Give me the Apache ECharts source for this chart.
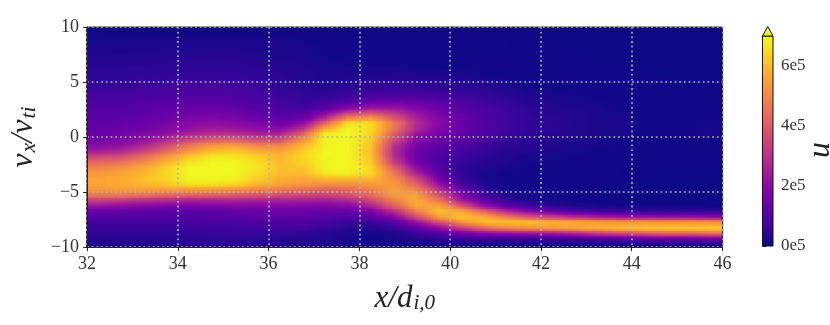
<!DOCTYPE html>
<html>
<head>
<meta charset="utf-8">
<script src="https://cdn.jsdelivr.net/npm/echarts@6/dist/echarts.min.js"></script>
<style>
html,body{margin:0;padding:0;background:#fff;width:830px;height:325px;overflow:hidden}
#stage{position:relative;width:830px;height:325px}
#clip{position:absolute;left:86px;top:27px;width:637px;height:220px;overflow:hidden;background:#000}
#heat{position:absolute;left:0;top:0;width:28px;height:40px;transform-origin:0 0;transform:scale(22.75,5.5)}
#main{position:absolute;left:0;top:0;width:830px;height:325px}
</style>
</head>
<body>
<svg width="0" height="0" style="position:absolute">
  <filter id="cmap" x="0" y="0" width="100%" height="100%" color-interpolation-filters="sRGB">
    <feComponentTransfer><feFuncR id="fr" type="table"/><feFuncG id="fg" type="table"/><feFuncB id="fb" type="table"/></feComponentTransfer>
  </filter>
</svg>
<div id="stage">
  <div id="clip"><div id="heat"></div></div>
  <div id="main"></div>
</div>
<script>
// cell centres of the phase-space map
const xCentres = [32.25,32.75,33.25,33.75,34.25,34.75,35.25,35.75,36.25,36.75,37.25,37.75,38.25,38.75,39.25,39.75,40.25,40.75,41.25,41.75,42.25,42.75,43.25,43.75,44.25,44.75,45.25,45.75];
const vCentres = [9.75,9.25,8.75,8.25,7.75,7.25,6.75,6.25,5.75,5.25,4.75,4.25,3.75,3.25,2.75,2.25,1.75,1.25,0.75,0.25,-0.25,-0.75,-1.25,-1.75,-2.25,-2.75,-3.25,-3.75,-4.25,-4.75,-5.25,-5.75,-6.25,-6.75,-7.25,-7.75,-8.25,-8.75,-9.25,-9.75];
// u in units of 1e4, one row per vCentres entry (top to bottom)
const uRows = [
[2,2,2,2,2,2,2,2,2,2,2,1,1,1,1,1,1,1,1,0,0,0,0,0,0,0,0,0],
[2,2,2,2,2,2,2,2,2,2,2,1,1,1,1,1,1,1,1,1,0,0,0,0,0,0,0,0],
[2,2,3,3,3,3,3,3,3,2,2,2,1,1,1,1,1,1,1,1,0,0,0,0,0,0,0,0],
[3,3,3,3,3,3,3,3,3,3,2,2,2,1,1,1,1,1,1,1,1,0,0,0,0,0,0,0],
[3,3,3,4,4,4,4,3,3,3,2,2,2,2,1,1,1,1,1,1,1,1,0,0,0,0,0,0],
[3,4,4,4,4,4,4,4,3,3,2,2,2,2,2,2,1,1,1,1,1,1,0,0,0,0,0,0],
[4,4,4,4,5,5,5,4,4,3,3,2,2,2,2,2,2,2,1,1,1,1,1,0,0,0,0,0],
[4,4,5,5,5,5,5,5,4,4,3,3,3,3,2,2,2,2,2,1,1,1,1,1,0,0,0,0],
[5,5,5,6,6,6,6,5,5,4,3,3,3,3,3,3,3,2,2,2,1,1,1,1,1,0,0,0],
[5,6,6,6,7,7,7,6,5,4,3,3,4,4,4,4,3,3,2,2,2,1,1,1,1,1,0,0],
[6,6,7,7,8,8,8,7,6,4,4,4,5,5,5,5,4,4,3,2,2,2,1,1,1,1,1,0],
[7,7,8,8,9,9,9,8,6,5,4,4,6,7,7,6,5,5,4,3,2,2,2,1,1,1,1,1],
[8,8,9,9,10,10,10,9,7,6,5,6,8,9,9,8,7,6,5,3,3,2,2,2,1,1,1,1],
[9,9,10,11,11,12,11,10,8,6,7,9,11,13,13,11,9,7,6,4,3,3,2,2,2,1,1,1],
[10,10,11,12,13,14,13,11,9,7,9,14,18,20,18,14,11,9,7,5,4,3,3,2,2,2,1,1],
[11,11,12,13,15,16,15,13,10,9,12,24,30,28,22,17,13,10,8,6,4,4,3,2,2,2,2,1],
[12,12,13,15,17,18,17,15,12,11,20,44,52,38,26,19,14,11,8,6,5,4,3,3,2,2,2,1],
[12,13,14,16,19,21,20,18,15,14,30,64,70,50,31,20,15,11,8,6,5,4,3,3,2,2,2,2],
[13,14,15,18,21,24,23,21,18,20,50,82,86,52,31,20,14,11,8,6,5,4,3,3,2,2,2,2],
[14,15,17,20,24,28,28,24,22,32,72,90,92,46,25,18,14,11,8,6,5,4,3,3,2,2,2,2],
[16,17,20,25,31,37,38,34,30,44,84,92,94,40,22,16,13,10,7,5,4,4,3,2,2,2,2,1],
[18,19,23,31,42,50,52,46,44,54,88,95,95,34,19,14,11,8,6,5,4,3,3,2,2,2,1,1],
[23,24,30,39,50,58,60,57,52,60,88,95,92,30,16,12,9,7,5,4,3,3,2,2,2,1,1,1],
[31,33,39,48,58,65,67,63,56,64,88,95,90,30,15,10,8,6,4,3,3,2,2,2,1,1,1,1],
[40,42,47,55,65,75,78,68,58,63,86,95,86,35,16,10,7,5,4,3,2,2,2,1,1,1,1,1],
[47,49,53,60,73,85,86,70,60,60,82,90,80,42,20,11,6,4,3,2,2,2,1,1,1,1,1,0],
[52,54,57,63,78,90,88,68,60,58,72,80,74,50,27,12,5,3,2,2,2,1,1,1,1,0,0,0],
[55,56,59,64,78,88,84,67,59,56,62,66,64,54,36,16,6,3,2,2,1,1,1,1,1,0,0,0],
[56,57,59,62,71,75,72,62,57,55,54,53,55,56,45,22,8,3,2,2,1,1,1,1,0,0,0,0],
[55,56,57,58,60,60,58,55,53,50,47,46,50,56,52,30,12,4,2,1,1,1,1,0,0,0,0,0],
[50,51,50,49,47,46,45,43,42,39,38,39,44,55,59,41,19,7,3,2,1,1,1,0,0,0,0,0],
[38,37,35,33,31,31,31,30,30,29,28,30,36,50,62,47,22,10,5,3,2,1,1,1,0,0,0,0],
[26,25,23,21,20,20,21,21,21,21,20,21,27,41,59,60,36,18,9,5,3,2,2,1,1,1,1,1],
[16,15,14,13,13,13,14,15,16,16,15,14,17,30,49,65,57,36,22,14,9,6,5,4,4,3,3,3],
[11,11,11,11,11,11,12,13,14,14,13,11,11,19,36,58,66,57,42,31,24,18,14,12,11,10,10,10],
[9,9,9,9,9,10,10,11,11,11,10,8,7,10,23,40,58,66,64,60,57,54,50,48,47,46,46,46],
[7,7,7,7,8,8,8,9,9,9,8,6,4,6,13,22,37,50,58,62,63,64,64,64,64,64,64,64],
[6,6,6,6,6,7,7,7,7,7,6,4,3,3,7,11,19,26,30,32,34,38,46,50,55,58,58,58],
[5,5,5,5,5,5,5,5,5,5,4,3,2,2,4,6,8,9,9,8,8,9,10,12,15,17,18,18],
[3,3,3,3,4,4,4,4,4,3,3,2,1,1,2,2,2,2,2,2,2,2,2,2,2,3,3,3]
];
// colour bar
const uMin = 0, uMax = 700000;
const uTickValues = [0, 200000, 400000, 600000];
const plasma = ['#0d0887','#41049d','#6a00a8','#8f0da4','#b12a90','#cc4778','#e16462','#f1844b','#fca636','#fcce25','#f0f921'];
const xTicks = {min: 32, max: 46, interval: 2};
const vTicks = {min: -10, max: 10, interval: 5};

// The map is drawn as a grey value image, smoothed by the browser's upscaling, then coloured by a plasma table.
const channel = k => plasma.map(c => (parseInt(c.substr(1 + 2 * k, 2), 16) / 255).toFixed(4)).join(' ');
['fr', 'fg', 'fb'].forEach((id, k) => document.getElementById(id).setAttribute('tableValues', channel(k)));
document.getElementById('clip').style.filter = 'url(#cmap)';

const heatCells = [];
uRows.forEach((row, j) => row.forEach((u, i) => heatCells.push([i, j, u * 10000])));

const heat = echarts.init(document.getElementById('heat'), null, {width: 28, height: 40, devicePixelRatio: 1, renderer: 'canvas'});
heat.setOption({
  animation: false,
  grid: {left: 0, right: 0, top: 0, bottom: 0},
  xAxis: {type: 'category', data: xCentres, show: false},
  yAxis: {type: 'category', data: vCentres, inverse: true, show: false},
  visualMap: {show: false, min: uMin, max: uMax, inRange: {color: ['#000000', '#ffffff']}, outOfRange: {color: ['#ffffff']}},
  series: [{type: 'heatmap', data: heatCells, progressive: 0, itemStyle: {borderWidth: 0}, emphasis: {disabled: true}}]
});

const serif = '"Liberation Serif","DejaVu Serif",serif';
const ink = '#262626';
const minusLabel = v => String(v).replace('-', '\u2212');
const barStops = plasma.map((color, i) => ({offset: i / (plasma.length - 1), color}));
const main = echarts.init(document.getElementById('main'), null, {width: 830, height: 325, devicePixelRatio: 1});
main.setOption({
  animation: false,
  backgroundColor: 'transparent',
  textStyle: {fontFamily: serif},
  grid: [
    {left: 85.5, top: 27, width: 637, height: 220, show: true, borderColor: ink, borderWidth: 1, backgroundColor: 'transparent'},
    {left: 762.5, top: 36, width: 10.5, height: 210, show: false}
  ],
  xAxis: [
    {gridIndex: 0, type: 'value', min: xTicks.min, max: xTicks.max, interval: xTicks.interval,
      axisLine: {show: true, onZero: false, lineStyle: {color: ink}},
      axisTick: {show: true, length: 4, lineStyle: {color: ink}},
      axisLabel: {fontFamily: serif, fontSize: 18, color: '#333', margin: 8, formatter: minusLabel},
      splitLine: {show: true, lineStyle: {color: '#b4b4b4', type: [1.8, 2.9], width: 1.6}},
      name: '{a|x/d}{b|i,0}', nameLocation: 'middle', nameGap: 36,
      nameTextStyle: {rich: {
        a: {fontFamily: serif, fontStyle: 'italic', fontSize: 31, color: '#222'},
        b: {fontFamily: serif, fontStyle: 'italic', fontSize: 21, color: '#222', padding: [10, 0, 0, 1]}
      }}},
    {gridIndex: 1, type: 'value', min: 0, max: 1, show: false}
  ],
  yAxis: [
    {gridIndex: 0, type: 'value', min: vTicks.min, max: vTicks.max, interval: vTicks.interval,
      axisLine: {show: true, onZero: false, lineStyle: {color: ink}},
      axisTick: {show: true, length: 4, lineStyle: {color: ink}},
      axisLabel: {fontFamily: serif, fontSize: 18, color: '#333', margin: 8, formatter: minusLabel},
      splitLine: {show: true, lineStyle: {color: '#b4b4b4', type: [1.8, 2.9], width: 1.6}},
      name: '{a|v}{b|x}{a|/v}{b|ti}', nameLocation: 'middle', nameGap: 43, nameRotate: 90,
      nameTextStyle: {rich: {
        a: {fontFamily: serif, fontStyle: 'italic', fontSize: 32, color: '#222'},
        b: {fontFamily: serif, fontStyle: 'italic', fontSize: 22, color: '#222', padding: [10, 0, 0, 1]}
      }}},
    {gridIndex: 1, type: 'value', position: 'right', min: uMin, max: uMax,
      axisLine: {show: false},
      axisTick: {show: true, length: 4, customValues: uTickValues, lineStyle: {color: '#111'}},
      axisLabel: {fontFamily: serif, fontSize: 17, color: '#333', margin: 8, customValues: uTickValues,
        formatter: v => (v / 100000) + 'e5'},
      splitLine: {show: false}}
  ],
  graphic: [
    {type: 'rect', z: 1,
      shape: {x: 762.5, y: 36, width: 10.5, height: 210},
      style: {fill: new echarts.graphic.LinearGradient(0, 1, 0, 0, barStops), stroke: '#111', lineWidth: 1}},
    {type: 'polygon', z: 1,
      shape: {points: [[762.5, 36], [767.75, 26.5], [773, 36]]},
      style: {fill: '#f0f921', stroke: '#111', lineWidth: 1}},
    {type: 'text', z: 1, x: 821, y: 150, rotation: Math.PI / 2,
      style: {text: 'u', fill: '#222', font: 'italic 32px ' + serif, align: 'center', verticalAlign: 'middle'}}
  ],
  series: []
});
</script>
</body>
</html>
